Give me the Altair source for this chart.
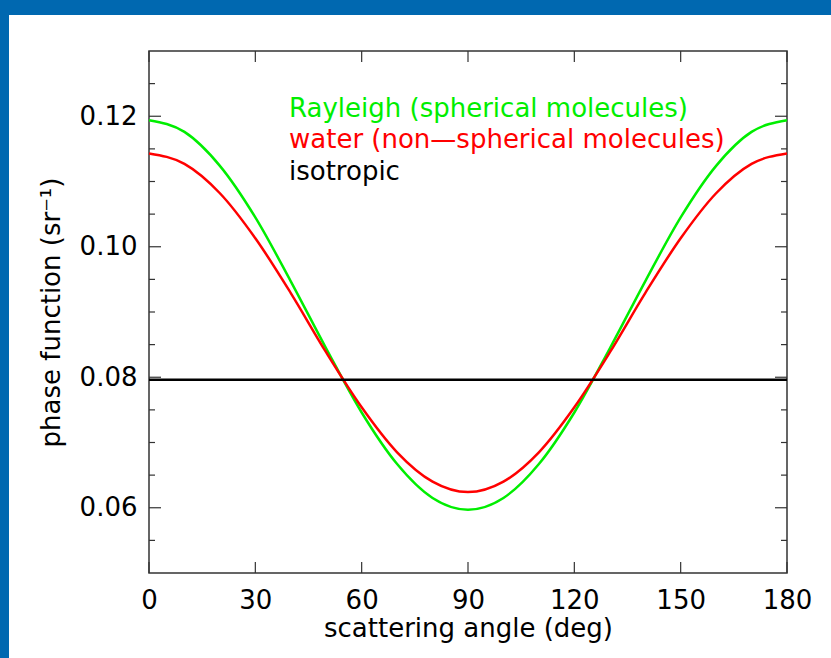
import altair as alt
import pandas as pd

# ---- data ----
angles = [0, 10, 20, 30, 40, 50, 60, 70, 80, 90, 100, 110, 120, 130, 140, 150, 160, 170, 180]
rayleigh = [0.1194, 0.1176, 0.1124, 0.1045, 0.0947, 0.0844, 0.0746, 0.0667, 0.0615, 0.0597,
            0.0615, 0.0667, 0.0746, 0.0844, 0.0947, 0.1045, 0.1124, 0.1176, 0.1194]
water = [0.1143, 0.1127, 0.1082, 0.1013, 0.0929, 0.0838, 0.0754, 0.0685, 0.0640, 0.0624,
         0.0640, 0.0685, 0.0754, 0.0838, 0.0929, 0.1013, 0.1082, 0.1127, 0.1143]
iso_angles = [0, 180]
isotropic = [0.0796, 0.0796]

series_names = ["Rayleigh (spherical molecules)", "water (non\u2014spherical molecules)", "isotropic"]
series_colors = ["#00ee00", "#ff0000", "#000000"]

x_major = [0, 30, 60, 90, 120, 150, 180]
y_major = [0.06, 0.08, 0.10, 0.12]
y_minor = [0.055, 0.065, 0.07, 0.075, 0.085, 0.09, 0.095, 0.105, 0.11, 0.115, 0.125]

W, H = 638, 522
BLUE = "#0068b0"
FONT = "DejaVu Sans"

rows = []
for a, r, w in zip(angles, rayleigh, water):
    rows.append({"angle": a, "value": r, "series": series_names[0]})
    rows.append({"angle": a, "value": w, "series": series_names[1]})
for a, v in zip(iso_angles, isotropic):
    rows.append({"angle": a, "value": v, "series": series_names[2]})
df = pd.DataFrame(rows)

xscale = alt.Scale(domain=[0, 180], nice=False, zero=False)
yscale = alt.Scale(domain=[0.05, 0.13], nice=False, zero=False)

xaxis = alt.Axis(values=x_major, ticks=False, domain=False, grid=False, labelFont=FONT,
                 labelFontSize=26, labelColor="black", labelPadding=14,
                 title="scattering angle (deg)", titleFont=FONT, titleFontSize=26,
                 titleFontWeight="normal", titleColor="black", titlePadding=2, labelFlush=False)
yaxis = alt.Axis(values=y_major, format=".2f", ticks=False, domain=False, grid=False,
                 labelFont=FONT, labelFontSize=26, labelColor="black", labelPadding=12,
                 title="phase function (sr\u207b\u00b9)", titleFont=FONT, titleFontSize=26,
                 titleFontWeight="normal", titleColor="black", titlePadding=15)

lines = alt.Chart(df).mark_line(strokeWidth=2.5, interpolate="monotone").encode(
    x=alt.X("angle:Q", scale=xscale, axis=xaxis),
    y=alt.Y("value:Q", scale=yscale, axis=yaxis),
    color=alt.Color("series:N", scale=alt.Scale(domain=series_names, range=series_colors), legend=None),
    detail="series:N",
)

# inward ticks
xt = pd.DataFrame({"t": x_major})
ytM = pd.DataFrame({"t": y_major})
ytm = pd.DataFrame({"t": y_minor})
tick_style = dict(color="#333333", strokeWidth=1.2)
xb = alt.Chart(xt).mark_rule(**tick_style).encode(x=alt.X("t:Q", scale=xscale), y=alt.value(H), y2=alt.value(H - 11))
xtp = alt.Chart(xt).mark_rule(**tick_style).encode(x=alt.X("t:Q", scale=xscale), y=alt.value(0), y2=alt.value(11))
ylM = alt.Chart(ytM).mark_rule(**tick_style).encode(y=alt.Y("t:Q", scale=yscale), x=alt.value(0), x2=alt.value(12))
yrM = alt.Chart(ytM).mark_rule(**tick_style).encode(y=alt.Y("t:Q", scale=yscale), x=alt.value(W), x2=alt.value(W - 12))
ylm = alt.Chart(ytm).mark_rule(**tick_style).encode(y=alt.Y("t:Q", scale=yscale), x=alt.value(0), x2=alt.value(6))
yrm = alt.Chart(ytm).mark_rule(**tick_style).encode(y=alt.Y("t:Q", scale=yscale), x=alt.value(W), x2=alt.value(W - 6))

# annotation labels
labels = []
for name, col, yy in zip(series_names, series_colors, [66, 97, 129]):
    labels.append(alt.Chart(pd.DataFrame({"s": [name]})).mark_text(
        align="left", baseline="alphabetic", font=FONT, fontSize=26, color=col
    ).encode(text="s:N", x=alt.value(140), y=alt.value(yy)))

# blue frame (top and left band of the page)
top_band = alt.Chart(pd.DataFrame({"a": [0]})).mark_rect(color=BLUE).encode(
    x=alt.value(-149), x2=alt.value(682), y=alt.value(-51), y2=alt.value(-36))
left_band = alt.Chart(pd.DataFrame({"a": [0]})).mark_rect(color=BLUE).encode(
    x=alt.value(-149), x2=alt.value(-140), y=alt.value(-51), y2=alt.value(607))

chart = alt.layer(
    top_band, left_band, xb, xtp, ylM, yrM, ylm, yrm, lines, *labels
).properties(
    width=W, height=H, padding=0, background="white"
).configure_view(stroke="#333333", strokeWidth=1.5)

chart.save("out.html", embed_options={"renderer": "svg", "actions": False})
